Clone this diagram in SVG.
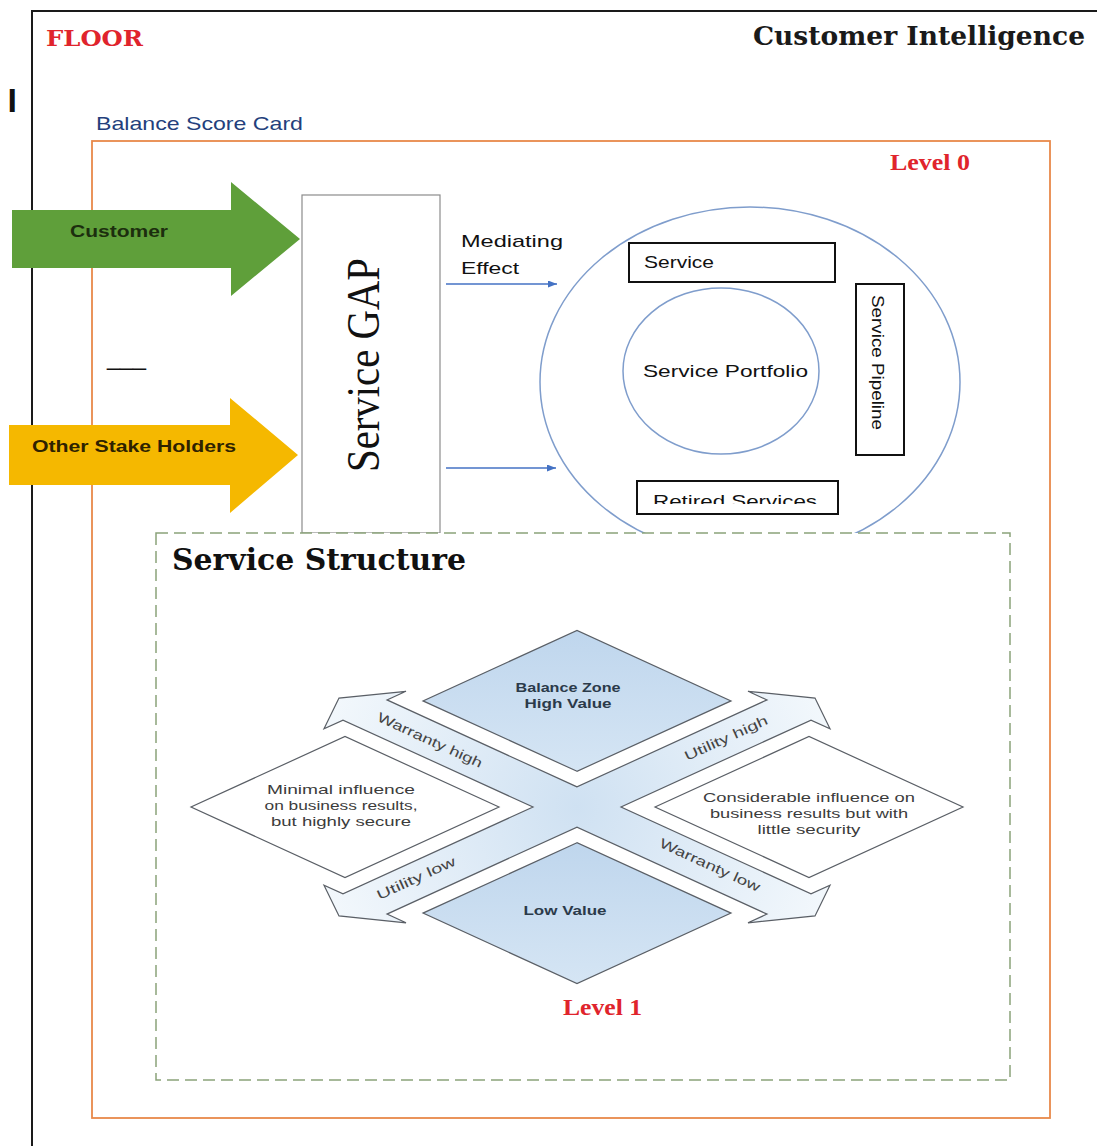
<svg xmlns="http://www.w3.org/2000/svg" width="1097" height="1146" viewBox="0 0 1097 1146">
<defs>
<style>
.serifb{font-family:"DejaVu Serif","Liberation Serif",serif;font-weight:bold}
.lvl{font-family:"Liberation Serif",serif;font-weight:bold;fill:#e0242c;font-size:23px}
.lbl{font-family:"Liberation Sans",sans-serif;font-size:17px;fill:#111}
.arrowlbl{font-family:"Liberation Sans",sans-serif;font-weight:bold;font-size:17px}
.box{fill:#fff;stroke:#111;stroke-width:2}
.ring{fill:none;stroke:#7f9dcc;stroke-width:1.5}
.conn{stroke:#4472c4;stroke-width:1.5;fill:none}
.dia{stroke:#5a5f66;stroke-width:1.2}
.dt{font-family:"Liberation Sans",sans-serif;font-size:13px;fill:#3c3c3c;text-anchor:middle}
.dtb{font-family:"Liberation Sans",sans-serif;font-size:13px;font-weight:bold;fill:#2b3a4a;text-anchor:middle}
.axl{font-family:"Liberation Sans",sans-serif;font-size:13.5px;fill:#444;text-anchor:middle}
</style>
<marker id="ah" viewBox="0 0 9 7" refX="9" refY="3.5" markerWidth="9" markerHeight="7" markerUnits="userSpaceOnUse" orient="auto">
<path d="M0,0 L9,3.5 L0,7 z" fill="#4472c4"/>
</marker>
<radialGradient id="xg" cx="577" cy="807" r="270" gradientUnits="userSpaceOnUse">
<stop offset="0" stop-color="#cfe1f2"/>
<stop offset="1" stop-color="#f3f8fc"/>
</radialGradient>
<linearGradient id="bg" x1="0" y1="0" x2="0" y2="1">
<stop offset="0" stop-color="#bfd6ed"/>
<stop offset="1" stop-color="#d5e5f4"/>
</linearGradient>
<clipPath id="retclip"><rect x="638" y="482" width="199" height="22"/></clipPath>
</defs>

<g id="frame">
<path d="M32,1146 V11 H1097" fill="none" stroke="#1a1a1a" stroke-width="2"/>
<text x="7.5" y="112" font-family="Liberation Sans,sans-serif" font-weight="bold" font-size="34" fill="#111">I</text>
<text class="serifb" x="46" y="46" font-size="22" fill="#e0242c" textLength="97" lengthAdjust="spacingAndGlyphs">FLOOR</text>
<text class="serifb" x="753" y="45" font-size="26" fill="#1a1a1a" textLength="332" lengthAdjust="spacingAndGlyphs">Customer Intelligence</text>
<text x="107" y="365" font-family="Liberation Sans,sans-serif" font-size="23" fill="#111" textLength="39" lengthAdjust="spacingAndGlyphs">___</text>
</g>

<g id="balance-score-card">
<text x="96" y="130" font-family="Liberation Sans,sans-serif" font-size="19" fill="#243f7c" textLength="207" lengthAdjust="spacingAndGlyphs">Balance Score Card</text>
<rect x="92" y="141" width="958" height="977" fill="none" stroke="#e8894a" stroke-width="1.8"/>
<text class="lvl" x="890" y="170" textLength="80" lengthAdjust="spacingAndGlyphs">Level 0</text>
</g>

<g id="service-catalogue">
<ellipse class="ring" cx="750" cy="382" rx="210" ry="175"/>
<ellipse class="ring" cx="721" cy="371" rx="98" ry="83"/>
<text class="lbl" x="643" y="377" textLength="165" lengthAdjust="spacingAndGlyphs">Service Portfolio</text>
</g>

<g id="service-box">
<rect class="box" x="629" y="243" width="206" height="39"/>
<text class="lbl" x="644" y="268" textLength="70" lengthAdjust="spacingAndGlyphs">Service</text>
</g>

<g id="service-pipeline">
<rect class="box" x="856" y="284" width="48" height="171"/>
<text class="lbl" transform="translate(872,362.5) rotate(90)" x="0" y="0" text-anchor="middle" font-size="16" textLength="135" lengthAdjust="spacingAndGlyphs">Service Pipeline</text>
</g>

<g id="retired-services">
<rect class="box" x="637" y="481" width="201" height="33"/>
<text class="lbl" x="653" y="507" font-size="16" textLength="164" lengthAdjust="spacingAndGlyphs" clip-path="url(#retclip)">Retired Services</text>
</g>

<g id="service-gap">
<rect x="302" y="195" width="138" height="338" fill="#fff" stroke="#8c8c8c" stroke-width="1.2"/>
<text transform="translate(379,365) rotate(-90)" x="0" y="0" text-anchor="middle" font-family="Liberation Serif,serif" font-size="46" fill="#111" textLength="214" lengthAdjust="spacingAndGlyphs">Service GAP</text>
</g>

<g id="customer">
<polygon points="12,210 231,210 231,182 300,239 231,296 231,268 12,268" fill="#5f9f3a"/>
<text class="arrowlbl" x="70" y="237" fill="#1c2e0e" textLength="98" lengthAdjust="spacingAndGlyphs">Customer</text>
</g>

<g id="other-stake-holders">
<polygon points="9,425 230,425 230,398 298,455 230,513 230,485 9,485" fill="#f5b800"/>
<text class="arrowlbl" x="32" y="452" fill="#2e2200" textLength="204" lengthAdjust="spacingAndGlyphs">Other Stake Holders</text>
</g>

<g id="connectors">
<line class="conn" x1="446" y1="284" x2="557" y2="284" marker-end="url(#ah)"/>
<line class="conn" x1="446" y1="468" x2="556" y2="468" marker-end="url(#ah)"/>
<text class="lbl" x="461" y="247" textLength="102" lengthAdjust="spacingAndGlyphs">Mediating</text>
<text class="lbl" x="461" y="274" textLength="58" lengthAdjust="spacingAndGlyphs">Effect</text>
</g>

<g id="service-structure">
<rect x="156" y="533" width="854" height="547" fill="#fff" stroke="#8aa27a" stroke-width="1.5" stroke-dasharray="12,6"/>
<text class="serifb" x="172" y="570" font-size="29" fill="#111" textLength="294" lengthAdjust="spacingAndGlyphs">Service Structure</text>
<text class="lvl" x="563" y="1015" textLength="79" lengthAdjust="spacingAndGlyphs">Level 1</text>
</g>

<g id="utility-warranty-arrows">
<polygon class="dia" fill="url(#xg)" points="577,786.9 387,699.9 406,691.3 339,698.1 324,728.8 343,720.1 533,807 343,893.9 324,885.2 339,915.9 406,922.8 387,914.1 577,827.1 767,914.1 748,922.8 815,915.9 830,885.2 811,893.9 621,807 811,720.1 830,728.8 815,698.1 748,691.3 767,699.9"/>
<text class="axl" transform="translate(430,740) rotate(24.6)" dy="0.35em" textLength="114" lengthAdjust="spacingAndGlyphs">Warranty high</text>
<text class="axl" transform="translate(726,738) rotate(-24.6)" dy="0.35em" textLength="90" lengthAdjust="spacingAndGlyphs">Utility high</text>
<text class="axl" transform="translate(710,865) rotate(24.6)" dy="0.35em" textLength="109" lengthAdjust="spacingAndGlyphs">Warranty low</text>
<text class="axl" transform="translate(416,878) rotate(-24.6)" dy="0.35em" textLength="85" lengthAdjust="spacingAndGlyphs">Utility low</text>
</g>

<g id="balance-zone">
<polygon class="dia" fill="url(#bg)" points="577,771.3 423,700.9 577,630.4 731,700.9"/>
<text class="dtb" x="568" y="692" textLength="105" lengthAdjust="spacingAndGlyphs">Balance Zone</text>
<text class="dtb" x="568" y="708" textLength="87" lengthAdjust="spacingAndGlyphs">High Value</text>
</g>

<g id="minimal-influence">
<polygon class="dia" fill="#fff" points="499,807 345,736.5 191,807 345,877.5"/>
<text class="dt" x="341" y="794" textLength="148" lengthAdjust="spacingAndGlyphs">Minimal influence</text>
<text class="dt" x="341" y="810" textLength="153" lengthAdjust="spacingAndGlyphs">on business results,</text>
<text class="dt" x="341" y="826" textLength="140" lengthAdjust="spacingAndGlyphs">but highly secure</text>
</g>

<g id="considerable-influence">
<polygon class="dia" fill="#fff" points="655,807 809,736.5 963,807 809,877.5"/>
<text class="dt" x="809" y="802" textLength="212" lengthAdjust="spacingAndGlyphs">Considerable influence on</text>
<text class="dt" x="809" y="818" textLength="198" lengthAdjust="spacingAndGlyphs">business results but with</text>
<text class="dt" x="809" y="834" textLength="103" lengthAdjust="spacingAndGlyphs">little security</text>
</g>

<g id="low-value">
<polygon class="dia" fill="url(#bg)" points="577,842.7 423,913.1 577,983.6 731,913.1"/>
<text class="dtb" x="565" y="915" textLength="83" lengthAdjust="spacingAndGlyphs">Low Value</text>
</g>
</svg>
